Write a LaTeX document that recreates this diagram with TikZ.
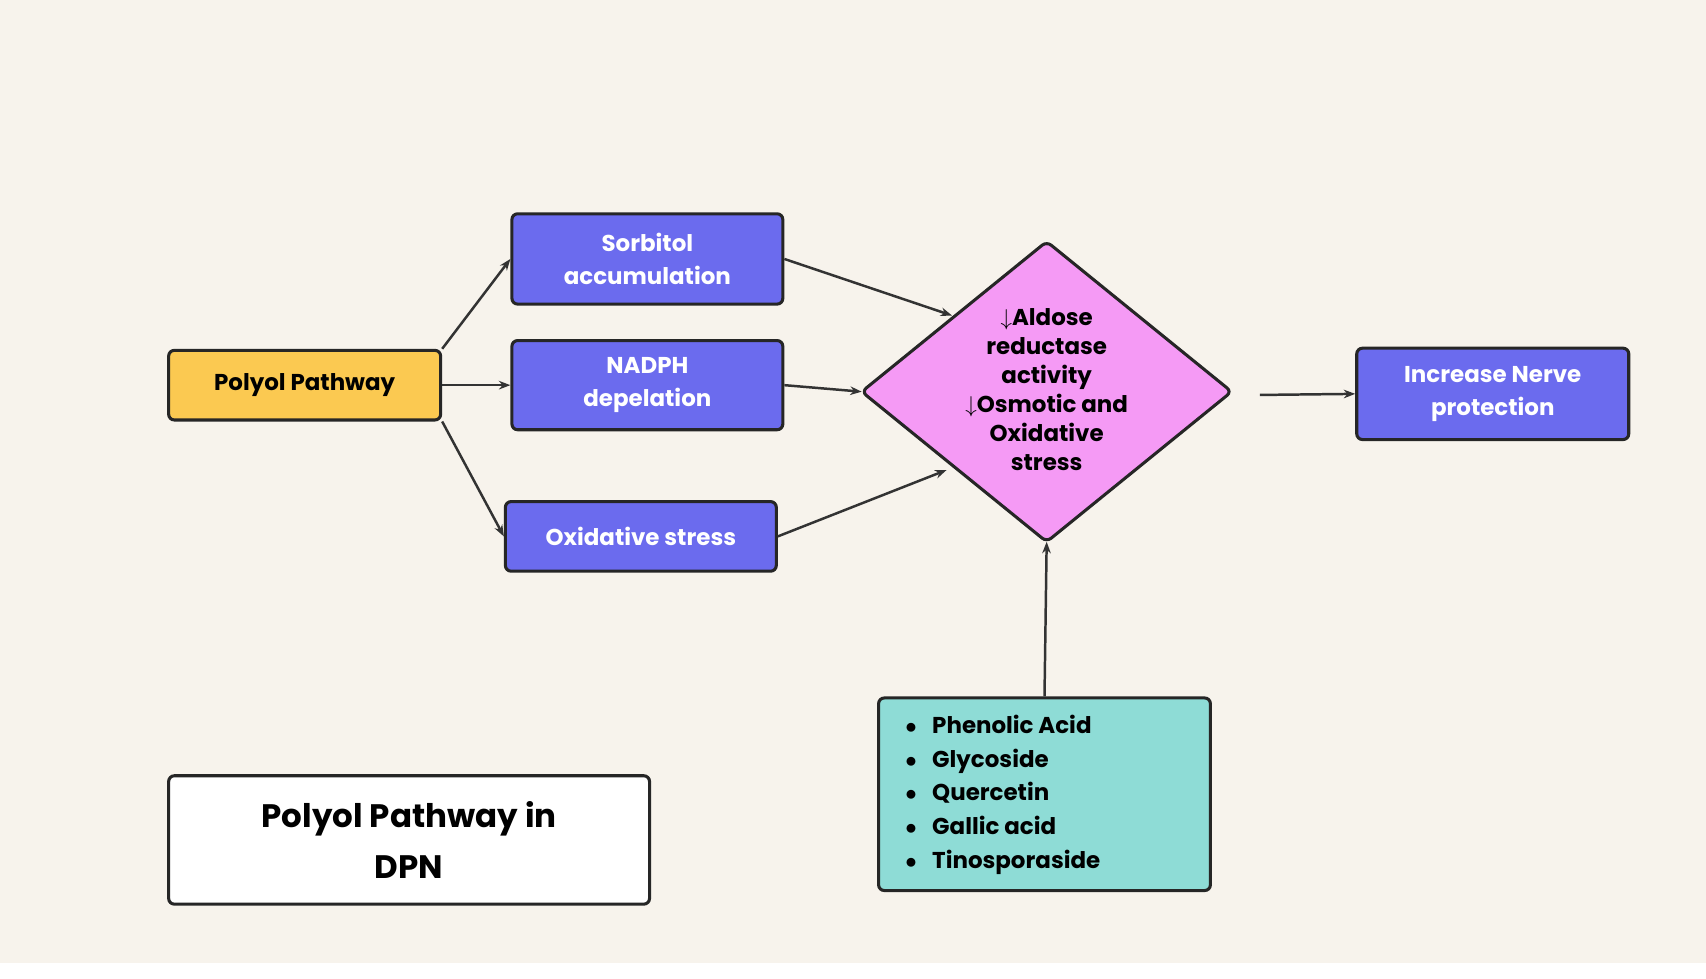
\documentclass[tikz,border=0pt]{standalone}
\usepackage{fontspec}
\setmainfont{Poppins}
\usetikzlibrary{shapes.geometric,arrows.meta}
\definecolor{bg}{HTML}{F7F3EC}
\definecolor{boxblue}{HTML}{6B6BEE}
\definecolor{yel}{HTML}{FBC951}
\definecolor{pinkd}{HTML}{F59AF5}
\definecolor{teal}{HTML}{8EDCD6}
\tikzset{
 blu/.style={draw=black!85,line width=1.6pt,rounded corners=3pt,fill=boxblue,text=white,font=\bfseries\fontsize{12}{17}\selectfont,align=center,inner sep=0pt},
 arr/.style={-{Stealth[length=6pt]},line width=1.3pt,draw=black!80}
}
\begin{document}
\begin{tikzpicture}[x=0.02cm,y=-0.02cm]
\fill[bg] (0,0) rectangle (1568,899);
\fill[white] (0,885) rectangle (1568,899);
\node[blu,fill=yel,text=black,minimum width=250*0.02cm,minimum height=64*0.02cm] (pp) at (280,354) {Polyol Pathway};
\node[blu,minimum width=249*0.02cm,minimum height=83*0.02cm] (sa) at (595,238) {Sorbitol\\accumulation};
\node[blu,minimum width=249*0.02cm,minimum height=82*0.02cm] (nd) at (595,354) {NADPH\\depelation};
\node[blu,minimum width=249*0.02cm,minimum height=64*0.02cm] (os) at (589,493) {Oxidative stress};
\node[blu,minimum width=250*0.02cm,minimum height=84*0.02cm] (inp) at (1372,362) {Increase Nerve\\protection};
\fill[pinkd,draw=black!85,line width=1.6pt,rounded corners=3pt] (962,222) -- (1132,360) -- (962,498) -- (792,360) -- cycle;
\node[font=\bfseries\fontsize{12}{15.2}\selectfont,align=center] (dm) at (962,358) {$\downarrow$Aldose\\reductase\\activity\\$\downarrow$Osmotic and\\Oxidative\\stress};
\coordinate (dN) at (875,290);
\coordinate (dW) at (792,360);
\coordinate (dS) at (870,432);
\coordinate (dE) at (1158,363);
\coordinate (dB) at (962,498);
\node[draw=black!85,line width=1.6pt,rounded corners=3pt,fill=teal,minimum width=305*0.02cm,minimum height=177*0.02cm] (tb) at (960,730) {};
\node[anchor=north west,font=\bfseries\fontsize{12}{17.6}\selectfont,align=left] (tl) at (826,651) {$\bullet$\hspace{8pt}Phenolic Acid\\$\bullet$\hspace{8pt}Glycoside\\$\bullet$\hspace{8pt}Quercetin\\$\bullet$\hspace{8pt}Gallic acid\\$\bullet$\hspace{8pt}Tinosporaside};
\node[draw=black!85,line width=1.6pt,rounded corners=3pt,fill=white,minimum width=442*0.02cm,minimum height=118*0.02cm,font=\bfseries\fontsize{17}{27}\selectfont,align=center] (tt) at (376,772) {Polyol Pathway in\\DPN};
\draw[arr] (pp.north east) -- (sa.west);
\draw[arr] (pp.east) -- (nd.west);
\draw[arr] (pp.south east) -- (os.west);
\draw[arr] (sa.east) -- (dN);
\draw[arr] (nd.east) -- (dW);
\draw[arr] (os.east) -- (dS);
\draw[arr] (dE) -- (inp.west);
\draw[arr] (tb.north) -- (dB);
\end{tikzpicture}
\end{document}
